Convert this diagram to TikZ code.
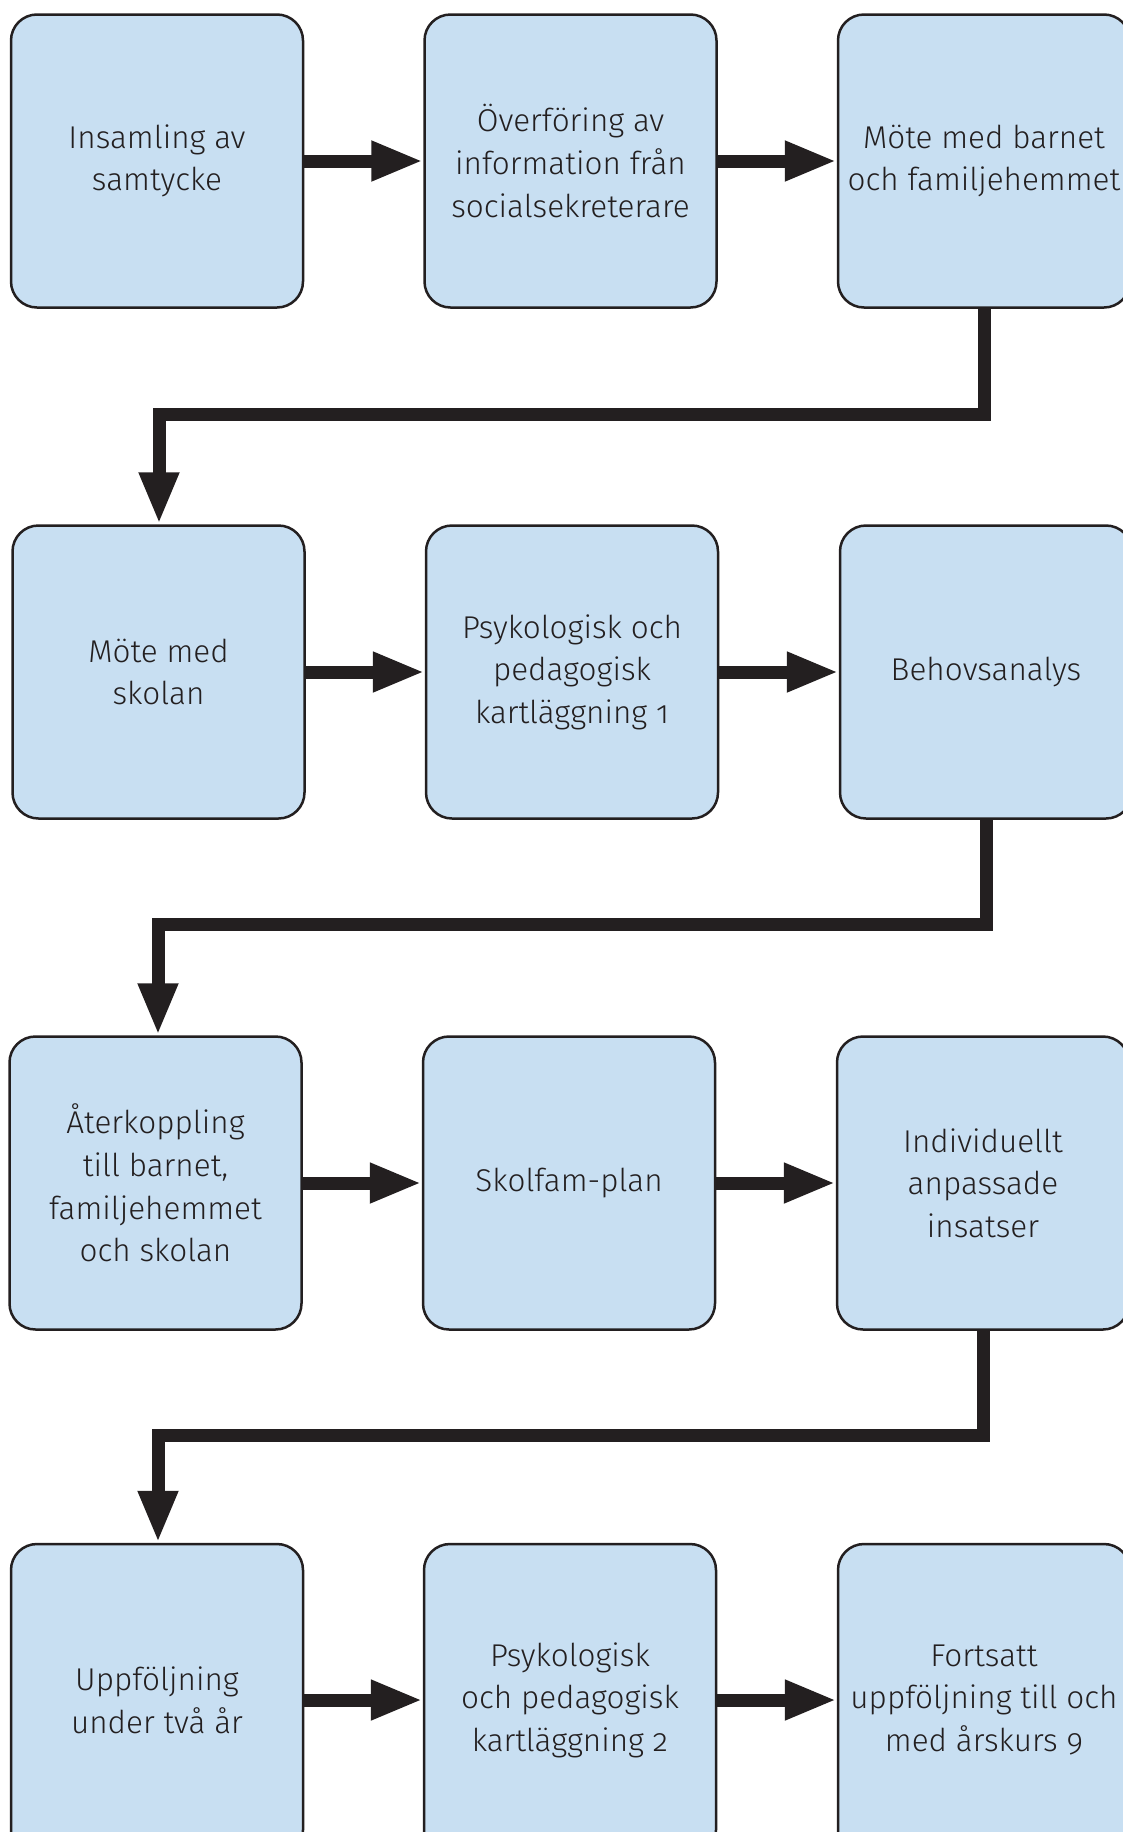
\documentclass[tikz,border=0pt]{standalone}
\usepackage{fontspec}
\IfFontExistsTF{Fira Sans Light}{\setmainfont{Fira Sans Light}[Numbers=OldStyle]}{\setmainfont{Fira Sans}[Numbers=OldStyle]}
\usetikzlibrary{arrows.meta}
\definecolor{boxfill}{HTML}{C8DFF2}
\definecolor{ink}{HTML}{231F20}
\begin{document}
\begin{tikzpicture}[x=1pt,y=-1pt,
  stage/.style={draw=ink, line width=2.5pt, fill=boxfill, rounded corners=26pt,
    minimum width=292pt, minimum height=293pt, align=center, text=ink,
    font=\fontsize{31.5}{42.6}\selectfont, inner sep=0pt},
  tallstage/.style={stage, minimum height=312pt},
  flow/.style={draw=ink, line width=13pt, line join=miter,
    -{Triangle[length=52pt,width=37pt]}}]
\useasboundingbox (0,0) rectangle (1123,1832);
% row 1
\node[stage] (b1) at (157,161) {Insamling av\\samtycke};
\node[stage] (b2) at (570.5,161) {Överföring av\\information från\\socialsekreterare};
\node[stage] (b3) at (984,161) {Möte med barnet\\och familjehemmet};
% row 2
\node[stage] (b4) at (158.5,672) {Möte med\\skolan};
\node[stage] (b5) at (572,672) {Psykologisk och\\pedagogisk\\kartläggning 1};
\node[stage] (b6) at (986,672) {Behovsanalys};
% row 3
\node[stage] (b7) at (155.5,1183) {Återkoppling\\till barnet,\\familjehemmet\\och skolan};
\node[stage] (b8) at (569,1183) {Skolfam-plan};
\node[stage] (b9) at (983,1183) {Individuellt\\anpassade\\insatser};
% row 4
\node[tallstage] (b10) at (157,1700) {Uppföljning\\under två år};
\node[tallstage] (b11) at (570,1700) {Psykologisk\\och pedagogisk\\kartläggning 2};
\node[tallstage] (b12) at (984,1700) {Fortsatt\\uppföljning till och\\med årskurs 9};
% bends
\coordinate (h1) at (159,414);
\coordinate (h2) at (158,924);
\coordinate (h3) at (158,1435);
% connectors
\draw[flow] (b1.east) -- (b2.west);
\draw[flow] (b2.east) -- (b3.west);
\draw[flow] (b3.south) |- (h1) -- (b4.north -| h1);
\draw[flow] (b4.east) -- (b5.west);
\draw[flow] (b5.east) -- (b6.west);
\draw[flow] (b6.south) |- (h2) -- (b7.north -| h2);
\draw[flow] (b7.east) -- (b8.west);
\draw[flow] (b8.east) -- (b9.west);
\draw[flow] (b9.south) |- (h3) -- (b10.north -| h3);
\draw[flow] (b10.east) -- (b11.west);
\draw[flow] (b11.east) -- (b12.west);
\end{tikzpicture}
\end{document}
